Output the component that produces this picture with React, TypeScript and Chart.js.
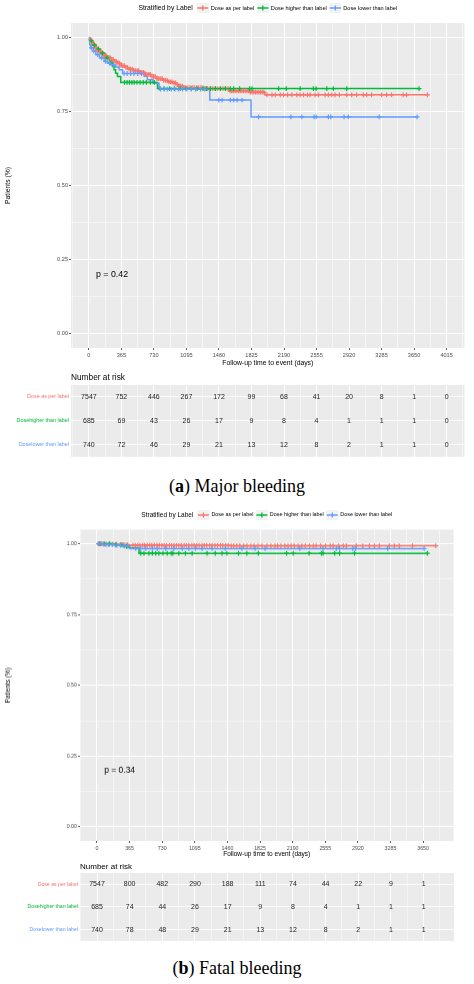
import React, { useEffect, useRef } from 'react';
import { Chart, registerables } from 'chart.js';

Chart.register(...registerables);

const FONT = '"Liberation Sans", Arial, sans-serif';
const SERIF = '"Liberation Serif", "Times New Roman", serif';

// ---------- shared labels ----------
const SERIES = ['Dose as per label', 'Dose higher than label', 'Dose lower than label'];
const TABLE_ROWS = ['Dose as per label', 'Dosehigher than label', 'Doselower than label'];
const COLORS = ['#F8766D', '#00BA38', '#619CFF'];
const LEGEND_TITLE = 'Stratified by Label';
const X_TITLE = 'Follow-up time to event (days)';
const Y_TITLE = 'Patients (%)';
const RISK_TITLE = 'Number at risk';
const Y_TICKS = [0, 0.25, 0.5, 0.75, 1];
const Y_TICK_LABELS = ['0.00', '0.25', '0.50', '0.75', '1.00'];

// ---------- panel (a) Major bleeding ----------
const A_X_TICKS = [0, 365, 730, 1095, 1460, 1825, 2190, 2555, 2920, 3285, 3650, 4015];
const A_PVALUE = 'p = 0.42';

const A_RED_T = [0, 12, 25, 45, 70, 100, 134, 170, 210, 246, 285, 321, 360, 400, 433, 500, 563, 630, 694, 760, 824, 880, 936, 975, 1010, 1066, 1300, 1570, 1800, 1975, 3800];
const A_RED_S = [1.0, 0.995, 0.988, 0.978, 0.966, 0.955, 0.946, 0.938, 0.932, 0.926, 0.92, 0.914, 0.906, 0.9, 0.894, 0.889, 0.883, 0.876, 0.869, 0.862, 0.856, 0.851, 0.847, 0.842, 0.836, 0.831, 0.828, 0.82, 0.816, 0.807, 0.807];
const A_RED_C = [18, 32, 47, 58, 74, 88, 103, 118, 131, 149, 163, 178, 196, 212, 228, 241, 259, 274, 291, 308, 326, 343, 362, 379, 397, 414, 431, 452, 468, 487, 503, 522, 541, 559, 578, 596, 614, 633, 651, 672, 689, 708, 727, 744, 765, 783, 801, 822, 840, 858, 879, 897, 916, 934, 955, 973, 992, 1011, 1030, 1049, 1068, 1090, 1112, 1135, 1160, 1183, 1208, 1232, 1257, 1281, 1306, 1333, 1362, 1390, 1418, 1447, 1476, 1505, 1533, 1561, 1584, 1603, 1622, 1641, 1660, 1679, 1698, 1717, 1736, 1755, 1774, 1793, 1812, 1831, 1850, 1869, 1888, 1907, 1926, 1945, 1964, 1999, 2055, 2092, 2148, 2185, 2230, 2278, 2334, 2371, 2409, 2453, 2483, 2539, 2576, 2651, 2688, 2726, 2763, 2811, 2894, 2950, 3006, 3080, 3117, 3173, 3285, 3341, 3397, 3527, 3565, 3800];

const A_GRN_T = [0, 15, 40, 80, 130, 180, 230, 265, 283, 300, 321, 358, 770, 3706];
const A_GRN_S = [1.0, 0.99, 0.975, 0.962, 0.948, 0.932, 0.916, 0.903, 0.892, 0.88, 0.869, 0.849, 0.828, 0.828];
const A_GRN_C = [25, 62, 108, 152, 205, 248, 400, 428, 455, 482, 508, 540, 575, 610, 645, 690, 735, 800, 845, 905, 960, 1025, 1090, 1150, 1215, 1280, 1320, 1365, 1421, 1477, 1532, 1588, 1625, 1692, 1804, 1831, 2129, 2215, 2371, 2520, 2550, 2670, 2744, 2894, 3706];

const A_BLU_T = [0, 8, 20, 50, 78, 120, 171, 210, 246, 302, 340, 377, 620, 656, 720, 787, 1357, 1820, 3684];
const A_BLU_S = [1.0, 0.976, 0.966, 0.955, 0.943, 0.932, 0.92, 0.914, 0.909, 0.901, 0.892, 0.879, 0.87, 0.858, 0.846, 0.826, 0.789, 0.732, 0.732];
const A_BLU_C = [28, 55, 98, 142, 188, 232, 275, 395, 430, 468, 505, 548, 590, 805, 845, 880, 925, 965, 1005, 1052, 1098, 1150, 1198, 1255, 1300, 1458, 1495, 1588, 1625, 1663, 1719, 1905, 2267, 2390, 2528, 2550, 2688, 2715, 2864, 2912, 3258, 3684];

const A_RISK_RED = [7547, 752, 446, 267, 172, 99, 68, 41, 20, 8, 1, 0];
const A_RISK_GRN = [685, 69, 43, 26, 17, 9, 8, 4, 1, 1, 1, 0];
const A_RISK_BLU = [740, 72, 46, 29, 21, 13, 12, 8, 2, 1, 1, 0];

// ---------- panel (b) Fatal bleeding ----------
const B_X_TICKS = [0, 365, 730, 1095, 1460, 1825, 2190, 2555, 2920, 3285, 3650];
const B_PVALUE = 'p = 0.34';

const B_RED_T = [0, 60, 150, 250, 360, 700, 1500, 3791];
const B_RED_S = [1.0, 0.999, 0.998, 0.997, 0.995, 0.994, 0.993, 0.993];
const B_RED_C = [15, 40, 72, 104, 138, 176, 218, 262, 301, 338, 402, 428, 457, 481, 512, 534, 563, 591, 614, 642, 671, 698, 727, 752, 779, 811, 836, 862, 889, 917, 943, 976, 1001, 1029, 1062, 1088, 1117, 1143, 1176, 1201, 1229, 1262, 1288, 1321, 1349, 1382, 1408, 1441, 1468, 1502, 1529, 1563, 1598, 1642, 1679, 1722, 1758, 1801, 1848, 1902, 1948, 1992, 2021, 2058, 2103, 2138, 2172, 2208, 2251, 2292, 2331, 2378, 2421, 2452, 2503, 2558, 2611, 2642, 2703, 2757, 2790, 2901, 2975, 3049, 3105, 3160, 3272, 3327, 3383, 3531, 3791];

const B_GRN_T = [0, 200, 300, 360, 471, 3700];
const B_GRN_S = [1.0, 0.996, 0.99, 0.985, 0.966, 0.966];
const B_GRN_C = [30, 82, 141, 212, 279, 331, 490, 526, 582, 620, 657, 693, 738, 787, 831, 849, 916, 990, 1065, 1232, 1324, 1399, 1454, 1584, 1677, 1806, 2122, 2196, 2374, 2512, 2530, 2660, 2715, 2882, 3698];

const B_BLU_T = [0, 63, 200, 300, 370, 3661];
const B_BLU_S = [1.0, 0.997, 0.995, 0.992, 0.983, 0.983];
const B_BLU_C = [22, 51, 92, 128, 171, 223, 262, 304, 341, 434, 490, 545, 620, 675, 768, 860, 954, 1027, 1102, 1176, 1288, 1436, 1621, 1769, 1881, 2270, 2530, 2679, 2715, 2863, 2893, 3253, 3661];

const B_RISK_RED = [7547, 800, 482, 290, 188, 111, 74, 44, 22, 9, 1];
const B_RISK_GRN = [685, 74, 44, 26, 17, 9, 8, 4, 1, 1, 1];
const B_RISK_BLU = [740, 78, 48, 29, 21, 13, 12, 8, 2, 1, 1];

// ---------- helpers ----------
type Curve = { t: number[]; s: number[]; c: number[] };

function stepAt(ts: number[], ss: number[], t: number) {
  let v = ss[0];
  for (let i = 0; i < ts.length; i++) {
    if (ts[i] <= t) v = ss[i];
    else break;
  }
  return v;
}

function gridValues(majors: number[], min: number, max: number) {
  const step = majors[1] - majors[0];
  const out: number[] = [majors[0] - step / 2];
  majors.forEach((m) => {
    out.push(m);
    out.push(m + step / 2);
  });
  return out.filter((v) => v >= min && v <= max).sort((a, b) => a - b);
}

const isIn = (arr: number[], v: number) => arr.some((m) => Math.abs(m - v) < 1e-9);

function bgPlugin(id: string) {
  return {
    id,
    beforeDraw(chart: any) {
      const { ctx, chartArea: a } = chart;
      ctx.save();
      ctx.fillStyle = '#EBEBEB';
      ctx.fillRect(a.left, a.top, a.right - a.left, a.bottom - a.top);
      ctx.restore();
    },
  };
}

function drawLegend(chart: any, cy: number, titleSize: number, itemSize: number) {
  const { ctx, chartArea } = chart;
  const curves = chart.data.datasets.filter((d: any) => d.legendKey);
  ctx.save();
  ctx.textBaseline = 'middle';
  ctx.textAlign = 'left';
  ctx.font = `${titleSize}px ${FONT}`;
  const tw = ctx.measureText(LEGEND_TITLE).width;
  ctx.font = `${itemSize}px ${FONT}`;
  const ws = curves.map((d: any) => ctx.measureText(d.label).width);
  const KEY = 12, G1 = 2, G2 = 2.5, GT = 4;
  const total = tw + GT + ws.reduce((a: number, w: number) => a + KEY + G1 + w, 0) + G2 * (ws.length - 1);
  let x = (chartArea.left + chartArea.right) / 2 - total / 2;
  ctx.fillStyle = '#000';
  ctx.font = `${titleSize}px ${FONT}`;
  ctx.fillText(LEGEND_TITLE, x, cy);
  x += tw + GT;
  ctx.font = `${itemSize}px ${FONT}`;
  curves.forEach((d: any, i: number) => {
    ctx.fillStyle = '#F2F2F2';
    ctx.fillRect(x, cy - 5, KEY, 10);
    ctx.strokeStyle = d.borderColor;
    ctx.lineWidth = 1.3;
    ctx.beginPath();
    ctx.moveTo(x + 0.5, cy);
    ctx.lineTo(x + KEY - 0.5, cy);
    ctx.moveTo(x + KEY / 2, cy - 2.6);
    ctx.lineTo(x + KEY / 2, cy + 2.6);
    ctx.stroke();
    x += KEY + G1;
    ctx.fillStyle = '#000';
    ctx.fillText(d.label, x, cy);
    x += ws[i] + G2;
  });
  ctx.restore();
}

type KMParams = {
  xMin: number; xMax: number; xMajors: number[]; curves: Curve[];
  yWidth: number; xHeight: number; padding: any;
  tickSize: number; titleSize: number; legendY: number; legendTitleSize: number; legendItemSize: number;
  pText: string; pSize: number;
};

const P_X = 80;
const P_Y = 0.2;

function kmConfig(p: KMParams): any {
  const xAll = gridValues(p.xMajors, p.xMin, p.xMax);
  const yAll = gridValues(Y_TICKS, -0.05, 1.05);
  const curveSets = p.curves.map((c, i) => ({
    type: 'line',
    label: SERIES[i],
    legendKey: true,
    data: c.t.map((t, j) => ({ x: t, y: c.s[j] })),
    borderColor: COLORS[i],
    backgroundColor: COLORS[i],
    borderWidth: 1.5,
    stepped: 'before',
    pointRadius: 0,
    fill: false,
    order: 10 - i,
  }));
  const censorSets = p.curves.map((c, i) => ({
    type: 'scatter',
    label: SERIES[i] + ' censored',
    data: c.c.map((t) => ({ x: t, y: stepAt(c.t, c.s, t) })),
    pointStyle: 'cross',
    pointRadius: 2.4,
    pointBorderWidth: 1.2,
    borderColor: COLORS[i],
    pointBorderColor: COLORS[i],
    backgroundColor: COLORS[i],
    showLine: false,
    order: 5 - i,
  }));
  return {
    type: 'line',
    data: { datasets: [...curveSets, ...censorSets] },
    options: {
      animation: false,
      responsive: true,
      maintainAspectRatio: false,
      events: [],
      layout: { padding: p.padding },
      plugins: { legend: { display: false }, tooltip: { enabled: false }, title: { display: false } },
      scales: {
        x: {
          type: 'linear',
          min: p.xMin,
          max: p.xMax,
          afterBuildTicks: (s: any) => { s.ticks = xAll.map((v) => ({ value: v })); },
          afterFit: (s: any) => { s.height = p.xHeight; },
          ticks: {
            autoSkip: false, maxRotation: 0, minRotation: 0, padding: 2.5,
            font: { size: p.tickSize, family: FONT }, color: '#4D4D4D',
            callback: (v: number) => (isIn(p.xMajors, v) ? String(v) : ''),
          },
          grid: {
            color: '#FFFFFF',
            lineWidth: (ctx: any) => (ctx.tick && isIn(p.xMajors, ctx.tick.value) ? 1 : 0.5),
            drawTicks: true,
            tickLength: 2,
            tickWidth: 0.8,
            tickColor: (ctx: any) => (ctx.tick && isIn(p.xMajors, ctx.tick.value) ? '#333333' : 'rgba(0,0,0,0)'),
          },
          border: { display: false },
          title: { display: true, text: X_TITLE, color: '#000', font: { size: p.titleSize, family: FONT }, padding: { top: 0, bottom: 0 } },
        },
        y: {
          type: 'linear',
          min: -0.05,
          max: 1.05,
          afterBuildTicks: (s: any) => { s.ticks = yAll.map((v) => ({ value: v })); },
          afterFit: (s: any) => { s.width = p.yWidth; },
          ticks: {
            autoSkip: false, padding: 1,
            font: { size: p.tickSize, family: FONT }, color: '#4D4D4D',
            callback: (v: number) => {
              const k = Y_TICKS.findIndex((m) => Math.abs(m - v) < 1e-9);
              return k >= 0 ? Y_TICK_LABELS[k] : '';
            },
          },
          grid: {
            color: '#FFFFFF',
            lineWidth: (ctx: any) => (ctx.tick && isIn(Y_TICKS, ctx.tick.value) ? 1 : 0.5),
            drawTicks: true,
            tickLength: 2,
            tickWidth: 0.8,
            tickColor: (ctx: any) => (ctx.tick && isIn(Y_TICKS, ctx.tick.value) ? '#333333' : 'rgba(0,0,0,0)'),
          },
          border: { display: false },
          title: { display: true, text: Y_TITLE, color: '#000', font: { size: p.titleSize, family: FONT }, padding: { top: 4, bottom: 0 } },
        },
      },
    },
    plugins: [
      bgPlugin('kmbg'),
      {
        id: 'kmdecor',
        afterDraw(chart: any) {
          drawLegend(chart, p.legendY, p.legendTitleSize, p.legendItemSize);
          const { ctx } = chart;
          const x = chart.scales.x.getPixelForValue(P_X);
          const y = chart.scales.y.getPixelForValue(P_Y);
          ctx.save();
          ctx.font = `${p.pSize}px ${FONT}`;
          ctx.fillStyle = '#000';
          ctx.textAlign = 'left';
          ctx.textBaseline = 'middle';
          ctx.fillText(p.pText, x, y);
          ctx.restore();
        },
      },
    ],
  };
}

type RiskParams = {
  xMin: number; xMax: number; xMajors: number[]; rows: number[][];
  yWidth: number; padding: any; labelSize: number; numSize: number; titleSize: number; titleY: number;
};

function riskConfig(p: RiskParams): any {
  const xAll = gridValues(p.xMajors, p.xMin, p.xMax);
  const datasets = p.rows.map((row, i) => ({
    type: 'scatter',
    label: TABLE_ROWS[i],
    data: row.map((n, j) => ({ x: p.xMajors[j], y: i + 1, n })),
    pointRadius: 0,
    showLine: false,
  }));
  return {
    type: 'scatter',
    data: { datasets },
    options: {
      animation: false,
      responsive: true,
      maintainAspectRatio: false,
      events: [],
      layout: { padding: p.padding },
      plugins: { legend: { display: false }, tooltip: { enabled: false } },
      scales: {
        x: {
          type: 'linear',
          min: p.xMin,
          max: p.xMax,
          afterBuildTicks: (s: any) => { s.ticks = xAll.map((v) => ({ value: v })); },
          afterFit: (s: any) => { s.height = 0; },
          ticks: { display: false },
          grid: {
            color: '#FFFFFF',
            lineWidth: (ctx: any) => (ctx.tick && isIn(p.xMajors, ctx.tick.value) ? 0.9 : 0.45),
            drawTicks: false,
          },
          border: { display: false },
        },
        y: {
          type: 'linear',
          min: 0.5,
          max: 3.5,
          reverse: true,
          afterBuildTicks: (s: any) => { s.ticks = [1, 2, 3].map((v) => ({ value: v })); },
          afterFit: (s: any) => { s.width = p.yWidth; },
          ticks: {
            autoSkip: false, padding: 2,
            font: { size: p.labelSize, family: FONT },
            color: (ctx: any) => COLORS[Math.round(ctx.tick.value) - 1],
            callback: (v: number) => TABLE_ROWS[Math.round(v) - 1],
          },
          grid: { color: '#FFFFFF', lineWidth: 0.8, drawTicks: false },
          border: { display: false },
        },
      },
    },
    plugins: [
      bgPlugin('riskbg'),
      {
        id: 'riskdecor',
        afterDraw(chart: any) {
          const { ctx, chartArea } = chart;
          ctx.save();
          ctx.fillStyle = '#000';
          ctx.textAlign = 'left';
          ctx.textBaseline = 'middle';
          ctx.font = `${p.titleSize}px ${FONT}`;
          ctx.fillText(RISK_TITLE, chartArea.left, p.titleY);
          ctx.font = `${p.numSize}px ${FONT}`;
          ctx.fillStyle = '#222';
          ctx.textAlign = 'center';
          chart.data.datasets.forEach((ds: any, i: number) => {
            const meta = chart.getDatasetMeta(i);
            meta.data.forEach((el: any, j: number) => {
              ctx.fillText(String(ds.data[j].n), el.x, el.y);
            });
          });
          ctx.restore();
        },
      },
    ],
  };
}

function ChartBox({ top, height, build }: { top: number; height: number; build: () => any }) {
  const ref = useRef<HTMLCanvasElement | null>(null);
  useEffect(() => {
    if (!ref.current) return;
    const chart = new Chart(ref.current, build());
    return () => chart.destroy();
  }, []);
  return (
    <div style={{ position: 'absolute', left: 0, top, width: 474, height }}>
      <canvas ref={ref} />
    </div>
  );
}

function Caption({ top, letter, text }: { top: number; letter: string; text: string }) {
  return (
    <div
      style={{
        position: 'absolute', left: 0, top, width: 474, textAlign: 'center',
        fontFamily: SERIF, fontSize: 18, lineHeight: '20px', color: '#000',
      }}
    >
      (<b>{letter}</b>) {text}
    </div>
  );
}

export default function App() {
  const A_X_MIN = -200.75, A_X_MAX = 4215.75;
  const B_X_MIN = -190, B_X_MAX = 3990;
  return (
    <div style={{ position: 'absolute', left: 0, top: 0, width: 474, height: 984, background: '#fff' }}>
      <ChartBox
        top={0}
        height={367}
        build={() =>
          kmConfig({
            xMin: A_X_MIN, xMax: A_X_MAX, xMajors: A_X_TICKS,
            curves: [
              { t: A_RED_T, s: A_RED_S, c: A_RED_C },
              { t: A_GRN_T, s: A_GRN_S, c: A_GRN_C },
              { t: A_BLU_T, s: A_BLU_S, c: A_BLU_C },
            ],
            yWidth: 71, xHeight: 19, padding: { top: 23, right: 9.5, bottom: 0, left: 0 },
            tickSize: 5.6, titleSize: 6.8, legendY: 8, legendTitleSize: 6.8, legendItemSize: 5.6,
            pText: A_PVALUE, pSize: 8.8,
          })
        }
      />
      <ChartBox
        top={370}
        height={92}
        build={() =>
          riskConfig({
            xMin: A_X_MIN, xMax: A_X_MAX, xMajors: A_X_TICKS,
            rows: [A_RISK_RED, A_RISK_GRN, A_RISK_BLU],
            yWidth: 71, padding: { top: 15, right: 9.5, bottom: 3, left: 0 },
            labelSize: 5.4, numSize: 7, titleSize: 8.3, titleY: 7.7,
          })
        }
      />
      <Caption top={476} letter="a" text="Major bleeding" />
      <ChartBox
        top={500}
        height={357.5}
        build={() =>
          kmConfig({
            xMin: B_X_MIN, xMax: B_X_MAX, xMajors: B_X_TICKS,
            curves: [
              { t: B_RED_T, s: B_RED_S, c: B_RED_C },
              { t: B_GRN_T, s: B_GRN_S, c: B_GRN_C },
              { t: B_BLU_T, s: B_BLU_S, c: B_BLU_C },
            ],
            yWidth: 80, xHeight: 17.5, padding: { top: 29.5, right: 20.5, bottom: 0, left: 0 },
            tickSize: 5.3, titleSize: 6.5, legendY: 15, legendTitleSize: 6.5, legendItemSize: 5.4,
            pText: B_PVALUE, pSize: 8.5,
          })
        }
      />
      <ChartBox
        top={858}
        height={88}
        build={() =>
          riskConfig({
            xMin: B_X_MIN, xMax: B_X_MAX, xMajors: B_X_TICKS,
            rows: [B_RISK_RED, B_RISK_GRN, B_RISK_BLU],
            yWidth: 80, padding: { top: 15, right: 20, bottom: 3, left: 0 },
            labelSize: 5.2, numSize: 7, titleSize: 8, titleY: 9,
          })
        }
      />
      <Caption top={958} letter="b" text="Fatal bleeding" />
    </div>
  );
}
